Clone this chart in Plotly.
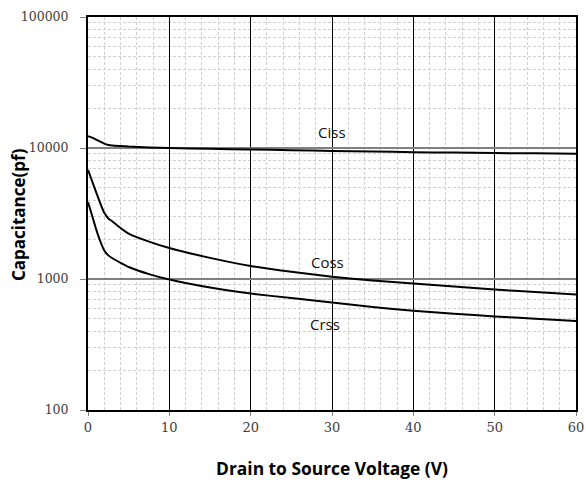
import math
import plotly.graph_objects as go

vds = [0, 0.5, 1, 1.5, 2, 2.5, 3, 4, 5, 7.5, 10, 15, 20, 25, 30, 35, 40, 45, 50, 55, 60]
ciss = [12300, 12000, 11600, 11200, 10800, 10550, 10450, 10350, 10250, 10100, 10000, 9850, 9750, 9620, 9500, 9400, 9300, 9220, 9150, 9100, 9050]
coss = [6800, 5600, 4600, 3800, 3200, 2900, 2750, 2450, 2220, 1930, 1725, 1450, 1257, 1135, 1040, 975, 925, 875, 830, 795, 760]
crss = [3870, 3050, 2400, 1950, 1650, 1515, 1440, 1330, 1235, 1090, 990, 860, 774, 715, 662, 612, 572, 543, 518, 497, 478]

y_tickvals = [100, 1000, 10000, 100000]
y_ticktext = ["100", "1000", "10000", "100000"]

labels = ["Ciss", "Coss", "Crss"]
label_x = [30.0, 29.4, 29.1]
label_y = [13200, 1340, 451]

fig = go.Figure()
for ys in (ciss, coss, crss):
    fig.add_trace(go.Scatter(x=vds, y=ys, mode="lines",
                             line=dict(color="black", width=2, shape="spline", smoothing=0.4),
                             showlegend=False, hoverinfo="skip"))

for t, lx, ly in zip(labels, label_x, label_y):
    fig.add_annotation(x=lx, y=math.log10(ly), text=t, showarrow=False,
                       font=dict(family="Open Sans", size=15, color="#111"))

# y-axis title placed as a rotated annotation
fig.add_annotation(xref="paper", yref="paper", x=-0.1434, y=0.496, xanchor="center", yanchor="middle",
                   text="<b>Capacitance(pf)</b>", textangle=-90, showarrow=False,
                   font=dict(family="Open Sans", size=17, color="black"))

fig.update_layout(
    width=586, height=480,
    margin=dict(l=88, r=10, t=17, b=70),
    plot_bgcolor="white", paper_bgcolor="white",
    xaxis=dict(range=[0, 60], dtick=10, tick0=0, showgrid=True, gridcolor="black", gridwidth=1,
               showline=True, linecolor="black", linewidth=2, mirror=True,
               ticks="outside", ticklen=4, tickcolor="#808080",
               tickfont=dict(family="DejaVu Serif", size=13, color="#404040"),
               minor=dict(dtick=2, showgrid=True, gridcolor="#d0d0d0", griddash="3px,2px", gridwidth=1),
               title=dict(text="<b>Drain to Source Voltage (V)</b>",
                          font=dict(family="Open Sans", size=17.4, color="black"), standoff=34),
               zeroline=False, automargin=False),
    yaxis=dict(type="log", range=[2, 5], showgrid=True, gridcolor="#808080", gridwidth=1.5,
               showline=True, linecolor="black", linewidth=2, mirror=True,
               ticks="outside", ticklen=6, tickcolor="#808080", ticklabelstandoff=9,
               tickfont=dict(family="DejaVu Serif", size=12.5, color="#404040"),
               tickvals=y_tickvals, ticktext=y_ticktext,
               minor=dict(dtick="D1", showgrid=True, gridcolor="#d0d0d0", griddash="3px,2px", gridwidth=1),
               zeroline=False, automargin=False),
)

fig.write_html("out.html", config={"displayModeBar": False},
               post_script="document.body.style.margin='0';document.body.style.overflow='hidden';")
